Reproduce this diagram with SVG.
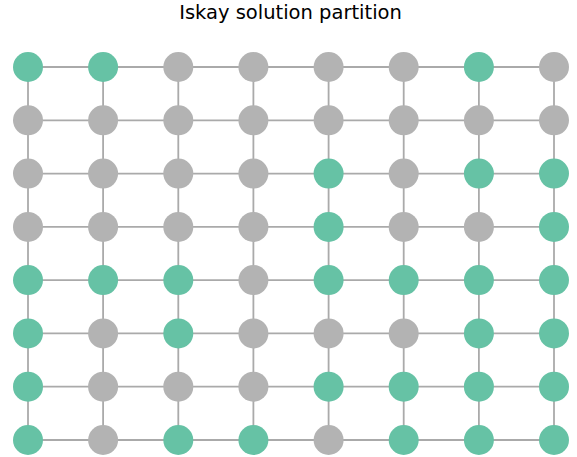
<svg xmlns="http://www.w3.org/2000/svg" width="577" height="457" viewBox="0 0 577 457">
<style>
.e{stroke:#aaaaaa;stroke-width:1.8;fill:none}
.a{fill:#66c2a5}
.b{fill:#b3b3b3}
.t{font-family:"DejaVu Sans",sans-serif;font-size:19.5px;fill:#000;text-anchor:middle}
</style>
<rect width="577" height="457" fill="#ffffff"/>
<text class="t" x="290.5" y="19">Iskay solution partition</text>
<g id="connectors" class="e">
<path d="M28 67H554M28 120.3H554M28 173.6H554M28 226.9H554M28 280.1H554M28 333.4H554M28 386.7H554M28 440H554"/>
<path d="M28 67V440M103.1 67V440M178.3 67V440M253.4 67V440M328.6 67V440M403.7 67V440M478.9 67V440M554 67V440"/>
</g>
<g id="nodes">
<g id="n0_0"><circle class="a" cx="28" cy="67" r="15"/></g>
<g id="n0_1"><circle class="a" cx="103.1" cy="67" r="15"/></g>
<g id="n0_2"><circle class="b" cx="178.3" cy="67" r="15"/></g>
<g id="n0_3"><circle class="b" cx="253.4" cy="67" r="15"/></g>
<g id="n0_4"><circle class="b" cx="328.6" cy="67" r="15"/></g>
<g id="n0_5"><circle class="b" cx="403.7" cy="67" r="15"/></g>
<g id="n0_6"><circle class="a" cx="478.9" cy="67" r="15"/></g>
<g id="n0_7"><circle class="b" cx="554" cy="67" r="15"/></g>

<g id="n1_0"><circle class="b" cx="28" cy="120.3" r="15"/></g>
<g id="n1_1"><circle class="b" cx="103.1" cy="120.3" r="15"/></g>
<g id="n1_2"><circle class="b" cx="178.3" cy="120.3" r="15"/></g>
<g id="n1_3"><circle class="b" cx="253.4" cy="120.3" r="15"/></g>
<g id="n1_4"><circle class="b" cx="328.6" cy="120.3" r="15"/></g>
<g id="n1_5"><circle class="b" cx="403.7" cy="120.3" r="15"/></g>
<g id="n1_6"><circle class="b" cx="478.9" cy="120.3" r="15"/></g>
<g id="n1_7"><circle class="b" cx="554" cy="120.3" r="15"/></g>

<g id="n2_0"><circle class="b" cx="28" cy="173.6" r="15"/></g>
<g id="n2_1"><circle class="b" cx="103.1" cy="173.6" r="15"/></g>
<g id="n2_2"><circle class="b" cx="178.3" cy="173.6" r="15"/></g>
<g id="n2_3"><circle class="b" cx="253.4" cy="173.6" r="15"/></g>
<g id="n2_4"><circle class="a" cx="328.6" cy="173.6" r="15"/></g>
<g id="n2_5"><circle class="b" cx="403.7" cy="173.6" r="15"/></g>
<g id="n2_6"><circle class="a" cx="478.9" cy="173.6" r="15"/></g>
<g id="n2_7"><circle class="a" cx="554" cy="173.6" r="15"/></g>

<g id="n3_0"><circle class="b" cx="28" cy="226.9" r="15"/></g>
<g id="n3_1"><circle class="b" cx="103.1" cy="226.9" r="15"/></g>
<g id="n3_2"><circle class="b" cx="178.3" cy="226.9" r="15"/></g>
<g id="n3_3"><circle class="b" cx="253.4" cy="226.9" r="15"/></g>
<g id="n3_4"><circle class="a" cx="328.6" cy="226.9" r="15"/></g>
<g id="n3_5"><circle class="b" cx="403.7" cy="226.9" r="15"/></g>
<g id="n3_6"><circle class="b" cx="478.9" cy="226.9" r="15"/></g>
<g id="n3_7"><circle class="a" cx="554" cy="226.9" r="15"/></g>

<g id="n4_0"><circle class="a" cx="28" cy="280.1" r="15"/></g>
<g id="n4_1"><circle class="a" cx="103.1" cy="280.1" r="15"/></g>
<g id="n4_2"><circle class="a" cx="178.3" cy="280.1" r="15"/></g>
<g id="n4_3"><circle class="b" cx="253.4" cy="280.1" r="15"/></g>
<g id="n4_4"><circle class="a" cx="328.6" cy="280.1" r="15"/></g>
<g id="n4_5"><circle class="a" cx="403.7" cy="280.1" r="15"/></g>
<g id="n4_6"><circle class="a" cx="478.9" cy="280.1" r="15"/></g>
<g id="n4_7"><circle class="a" cx="554" cy="280.1" r="15"/></g>

<g id="n5_0"><circle class="a" cx="28" cy="333.4" r="15"/></g>
<g id="n5_1"><circle class="b" cx="103.1" cy="333.4" r="15"/></g>
<g id="n5_2"><circle class="a" cx="178.3" cy="333.4" r="15"/></g>
<g id="n5_3"><circle class="b" cx="253.4" cy="333.4" r="15"/></g>
<g id="n5_4"><circle class="b" cx="328.6" cy="333.4" r="15"/></g>
<g id="n5_5"><circle class="b" cx="403.7" cy="333.4" r="15"/></g>
<g id="n5_6"><circle class="a" cx="478.9" cy="333.4" r="15"/></g>
<g id="n5_7"><circle class="a" cx="554" cy="333.4" r="15"/></g>

<g id="n6_0"><circle class="a" cx="28" cy="386.7" r="15"/></g>
<g id="n6_1"><circle class="b" cx="103.1" cy="386.7" r="15"/></g>
<g id="n6_2"><circle class="b" cx="178.3" cy="386.7" r="15"/></g>
<g id="n6_3"><circle class="b" cx="253.4" cy="386.7" r="15"/></g>
<g id="n6_4"><circle class="a" cx="328.6" cy="386.7" r="15"/></g>
<g id="n6_5"><circle class="a" cx="403.7" cy="386.7" r="15"/></g>
<g id="n6_6"><circle class="a" cx="478.9" cy="386.7" r="15"/></g>
<g id="n6_7"><circle class="a" cx="554" cy="386.7" r="15"/></g>

<g id="n7_0"><circle class="a" cx="28" cy="440" r="15"/></g>
<g id="n7_1"><circle class="b" cx="103.1" cy="440" r="15"/></g>
<g id="n7_2"><circle class="a" cx="178.3" cy="440" r="15"/></g>
<g id="n7_3"><circle class="a" cx="253.4" cy="440" r="15"/></g>
<g id="n7_4"><circle class="b" cx="328.6" cy="440" r="15"/></g>
<g id="n7_5"><circle class="a" cx="403.7" cy="440" r="15"/></g>
<g id="n7_6"><circle class="a" cx="478.9" cy="440" r="15"/></g>
<g id="n7_7"><circle class="a" cx="554" cy="440" r="15"/></g>
</g>
</svg>
